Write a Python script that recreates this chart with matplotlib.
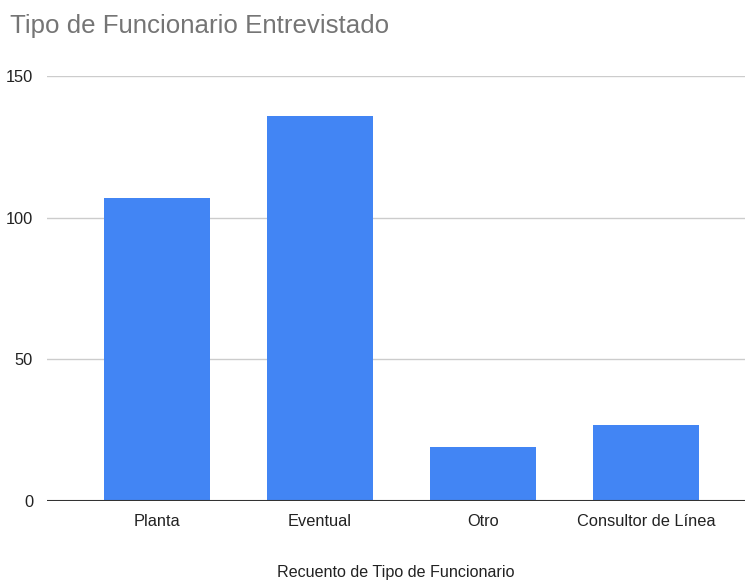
import matplotlib
matplotlib.use("Agg")
import matplotlib.pyplot as plt

categories = ["Planta", "Eventual", "Otro", "Consultor de Línea"]
values = [107, 136, 19, 27]
yticks = [0, 50, 100, 150]

plt.rcParams['font.family'] = ['Liberation Sans', 'DejaVu Sans']

fig = plt.figure(figsize=(7.46, 5.84), dpi=100)
ax = fig.add_axes([47/746, 1-501/584, (745-47)/746, (501-76)/584])

x = list(range(len(categories)))
ax.bar(x, values, width=0.65, color="#4285F4", zorder=3)

ax.set_xlim(-0.675, 3.607)
ax.set_ylim(0, 150)
ax.set_yticks(yticks)
ax.set_yticklabels([str(v) for v in yticks])
ax.set_xticks(x)
ax.set_xticklabels(categories)
ax.tick_params(axis='both', length=0, labelsize=11.8, labelcolor="#222222")
ax.tick_params(axis='y', pad=10)
ax.tick_params(axis='x', pad=9)
for s in ["top", "right", "left", "bottom"]:
    ax.spines[s].set_visible(False)
ax.grid(axis='y', color="#cccccc", linewidth=1, zorder=0)
ax.axhline(0, color="#333333", linewidth=1.5, zorder=4)

ax.set_xlabel("Recuento de Tipo de Funcionario", fontsize=11.6, color="#222222", labelpad=26)
fig.text(10/746, 1-33/584, "Tipo de Funcionario Entrevistado", fontsize=18.6, color="#757575",
         ha="left", va="baseline")

fig.savefig("out.png", dpi=100)
